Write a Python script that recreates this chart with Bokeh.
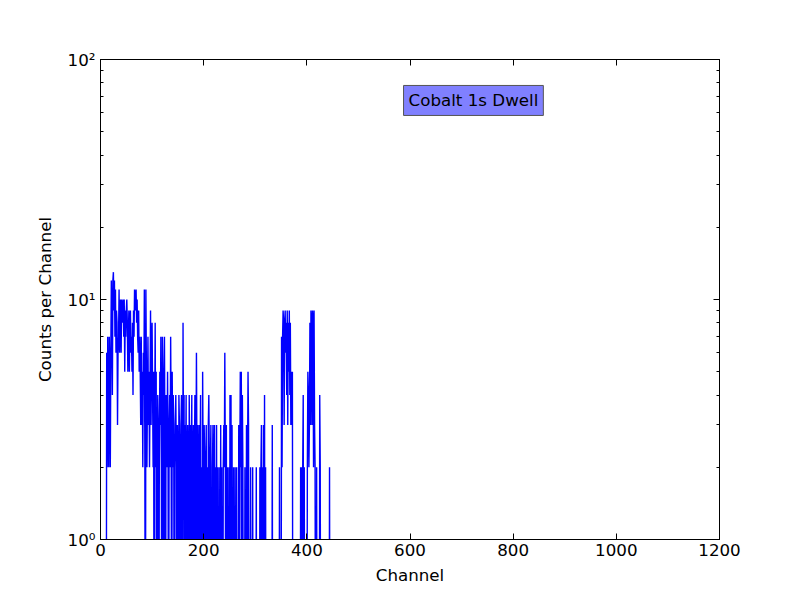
from bokeh.plotting import figure
from bokeh.models import (Range1d, FixedTicker, LinearAxis, LogAxis, Label,
                          CustomJSTickFormatter, ColumnDataSource)
from bokeh.embed import file_html
from bokeh.resources import INLINE

# ---------------- data ----------------
first_channel = 0
counts = [
    0, 0, 0, 0, 0, 0, 0, 0, 0, 0,      # 0-9
    0, 0, 6, 2, 7, 3, 2, 7, 5, 2,      # 10-19
    6, 12, 8, 4, 12, 13, 9, 12, 7, 11, # 20-29
    6, 9, 8, 3, 6, 7, 11, 6, 9, 10,    # 30-39
    6, 10, 8, 9, 10, 7, 10, 5, 9, 7,   # 40-49
    9, 10, 8, 5, 7, 9, 5, 8, 9, 6,     # 50-59
    7, 5, 8, 4, 9, 7, 11, 9, 10, 11,   # 60-69
    8, 10, 7, 6, 9, 5, 7, 5, 3, 7,     # 70-79
    3, 5, 2, 6, 4, 11, 2, 0, 11, 5,    # 80-89
    2, 4, 7, 3, 5, 2, 4, 9, 3, 6,      # 90-99
    8, 4, 2, 5, 0, 3, 8, 2, 5, 0,      # 100-109
    2, 4, 3, 0, 2, 5, 3, 7, 2, 0,      # 110-119
    7, 3, 0, 5, 7, 2, 0, 4, 3, 2,      # 120-129
    5, 2, 0, 3, 4, 2, 7, 3, 0, 5,      # 130-139
    2, 4, 3, 0, 2, 3, 4, 2, 0, 3,      # 140-149
    2, 0, 4, 3, 2, 0, 3, 4, 2, 0,      # 150-159
    8, 2, 4, 0, 3, 2, 4, 0, 2, 3,      # 160-169
    2, 0, 4, 2, 0, 3, 2, 4, 0, 2,      # 170-179
    3, 0, 2, 4, 0, 2, 6, 2, 0, 3,      # 180-189
    2, 0, 3, 2, 4, 0, 2, 0, 5, 2,      # 190-199
    0, 3, 2, 0, 2, 3, 0, 2, 0, 3,      # 200-209
    4, 2, 0, 2, 3, 0, 0, 2, 3, 0,      # 210-219
    2, 3, 0, 2, 0, 3, 0, 2, 0, 0,      # 220-229
    2, 0, 0, 3, 0, 2, 0, 0, 2, 3,      # 230-239
    2, 6, 2, 0, 3, 0, 2, 0, 0, 2,      # 240-249
    0, 4, 2, 4, 0, 3, 0, 0, 2, 0,      # 250-259
    0, 2, 0, 0, 2, 0, 0, 0, 3, 0,      # 260-269
    2, 5, 2, 5, 0, 4, 2, 0, 0, 0,      # 270-279
    2, 0, 0, 3, 0, 2, 5, 3, 0, 0,      # 280-289
    0, 2, 0, 0, 0, 2, 0, 0, 0, 0,      # 290-299
    0, 0, 2, 0, 0, 0, 0, 0, 0, 2,      # 300-309
    0, 2, 3, 0, 2, 0, 3, 0, 4, 0,      # 310-319
    2, 0, 0, 0, 0, 0, 0, 0, 0, 0,      # 320-329
    0, 0, 0, 3, 0, 0, 0, 0, 0, 0,      # 330-339
    0, 0, 0, 0, 0, 0, 0, 2, 0, 0,      # 340-349
    0, 7, 2, 7, 9, 8, 3, 8, 9, 6,      # 350-359
    8, 4, 9, 3, 8, 5, 9, 4, 8, 3,      # 360-369
    5, 3, 5, 0, 0, 0, 0, 0, 0, 0,      # 370-379
    0, 0, 0, 0, 0, 0, 0, 0, 2, 0,      # 380-389
    2, 0, 2, 4, 0, 2, 0, 0, 0, 0,      # 390-399
    0, 2, 5, 4, 2, 3, 8, 3, 9, 8,      # 400-409
    3, 9, 8, 2, 9, 3, 2, 0, 0, 2,      # 410-419
    0, 0, 0, 0, 0, 4, 2, 0, 0, 0,      # 420-429
    0, 0, 0, 0, 0, 0, 0, 0, 0, 0,      # 430-439
    0, 0, 0, 0, 2, 0, 0, 0, 0, 0,      # 440-449
]
x_ticks = [0, 200, 400, 600, 800, 1000, 1200]
y_major = [1, 10, 100]
y_minor = [2, 3, 4, 5, 6, 7, 8, 9, 20, 30, 40, 50, 60, 70, 80, 90]
legend_text = "Cobalt 1s Dwell"
x_label = "Channel"
y_label = "Counts per Channel"

channels = [first_channel + i for i in range(len(counts))]
# zero counts cannot sit on a log axis: send them below the frame (clipped)
plot_counts = [c if c > 0 else 0.1 for c in counts]
src = ColumnDataSource(dict(x=channels, y=plot_counts))

FONT = "DejaVu Sans"
FS = "16.7px"

p = figure(frame_width=619, frame_height=480,
           min_border_left=100, min_border_right=73,
           min_border_top=59, min_border_bottom=53,
           y_axis_type="log", x_range=Range1d(0, 1200), y_range=Range1d(1, 100),
           output_backend="svg", toolbar_location=None,
           background_fill_color="white", border_fill_color="white")
p.grid.visible = False
p.outline_line_color = "black"
p.outline_line_width = 1

p.line("x", "y", source=src, line_color="#0000ff", line_width=1.4)

sup = "const s={'0':'\u2070','1':'\u00b9','2':'\u00b2','3':'\u00b3','4':'\u2074','5':'\u2075','6':'\u2076','7':'\u2077','8':'\u2078','9':'\u2079','-':'\u207b'};" \
      "const e=Math.round(Math.log10(tick));return '10'+String(e).split('').map(c=>s[c]).join('');"

xt = FixedTicker(ticks=x_ticks)
yt = FixedTicker(ticks=y_major, minor_ticks=y_minor)

def style(ax, labels=True):
    ax.axis_line_color = "black"
    ax.major_tick_line_color = "black"
    ax.minor_tick_line_color = "black"
    ax.major_tick_in = 6
    ax.major_tick_out = 0
    ax.minor_tick_in = 3
    ax.minor_tick_out = 0
    ax.major_label_text_font = FONT
    ax.major_label_text_font_size = FS
    ax.major_label_text_color = "black" if labels else None
    ax.axis_label_text_font = FONT
    ax.axis_label_text_font_size = FS
    ax.axis_label_text_font_style = "normal"
    ax.axis_label_text_color = "black"

xa = p.xaxis[0]
xa.ticker = xt
xa.axis_label = x_label
xa.axis_label_standoff = 6
xa.major_label_standoff = 4
style(xa)
xa.minor_tick_line_color = None

ya = p.yaxis[0]
ya.ticker = yt
ya.formatter = CustomJSTickFormatter(code=sup)
ya.axis_label = y_label
ya.axis_label_standoff = 10
ya.major_label_standoff = 5
style(ya)

top = LinearAxis(ticker=FixedTicker(ticks=x_ticks))
style(top, labels=False)
top.minor_tick_line_color = None
top.major_label_text_font_size = "0px"
p.add_layout(top, "above")

right = LogAxis(ticker=FixedTicker(ticks=y_major, minor_ticks=y_minor))
style(right, labels=False)
right.major_label_text_font_size = "0px"
p.add_layout(right, "right")

lab = Label(x=723, y=67.5, text=legend_text, text_align="center",
            text_baseline="middle", text_font=FONT, text_font_size=FS,
            text_color="black", background_fill_color="#8080ff",
            background_fill_alpha=1.0, border_line_color="#555555",
            border_line_width=1, padding=5)
p.add_layout(lab)

open("out.html", "w").write(file_html(p, INLINE))
